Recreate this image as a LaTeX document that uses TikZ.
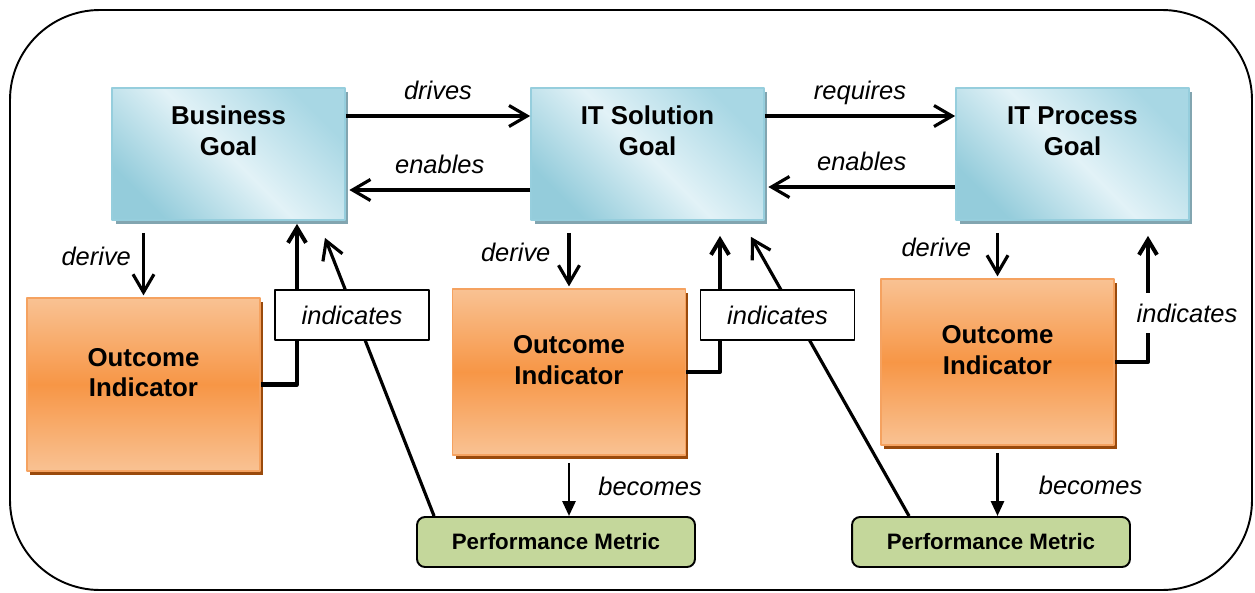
\documentclass[tikz,border=0pt]{standalone}
\usepackage{fontspec}
\setmainfont{Liberation Sans}
\usetikzlibrary{arrows.meta,shadows}
\definecolor{goalline}{HTML}{96CEDD}
\definecolor{goaldark}{HTML}{94CCDB}
\definecolor{goallight}{HTML}{E2F2F7}
\definecolor{goaltop}{HTML}{A8D7E4}
\definecolor{goalshadow}{HTML}{82A5B0}
\definecolor{outline}{HTML}{F5A260}
\definecolor{outlight}{HTML}{F9C293}
\definecolor{outmid}{HTML}{F79646}
\definecolor{outshadow}{HTML}{9A4A0C}
\definecolor{metricfill}{HTML}{C4D79B}
\begin{document}
\begin{tikzpicture}[x=0.02cm,y=-0.02cm,line join=round,
  goal/.style={draw=goalline,line width=1pt,minimum width=4.66cm,minimum height=2.64cm,
    bottom color=goaldark,top color=goaltop,middle color=goallight,shading angle=-45,
    font=\bfseries\fontsize{14.7}{17.6}\selectfont,align=center,text depth=0.92cm,
    drop shadow={shadow xshift=0.07cm,shadow yshift=-0.08cm,fill=goalshadow,opacity=1}},
  outcome/.style={draw=outline,line width=1pt,minimum width=4.66cm,minimum height=3.32cm,
    top color=outlight,bottom color=outlight,middle color=outmid,
    font=\bfseries\fontsize{14.7}{17.6}\selectfont,align=center,text depth=0.48cm,
    drop shadow={shadow xshift=0.06cm,shadow yshift=-0.08cm,fill=outshadow,opacity=1}},
  metric/.style={draw,line width=1.1pt,rounded corners=0.16cm,fill=metricfill,
    minimum width=5.56cm,minimum height=1cm,font=\bfseries\fontsize{12.7}{15}\selectfont},
  tag/.style={draw,line width=1pt,fill=white,minimum width=3.08cm,minimum height=1cm},
  lbl/.style={inner sep=0pt,text height=0.36cm,text depth=0.1cm},
  flow/.style={line width=1.8pt,-{Straight Barb[length=0.36cm,width=0.42cm]}},
  ind/.style={line width=2.3pt,-{Straight Barb[length=0.3cm,width=0.36cm]}},
  become/.style={line width=1.6pt,-{Triangle[length=0.3cm,width=0.26cm]}},
  font=\itshape\fontsize{14.5}{17}\selectfont]
\useasboundingbox (0,0) rectangle (1255,592);
\draw[line width=1.1pt,rounded corners=1.8cm] (10,10) rectangle (1252,590);

\node[goal] (bg) at (228.5,154) {Business\\Goal};
\node[goal] (sg) at (647.5,154) {IT Solution\\Goal};
\node[goal] (pg) at (1072.5,154) {IT Process\\Goal};
\node[outcome,minimum height=3.46cm] (oi1) at (143.5,384.5) {Outcome\\Indicator};
\node[outcome] (oi2) at (569,372) {Outcome\\Indicator};
\node[outcome] (oi3) at (997.5,362) {Outcome\\Indicator};
\node[metric] (pm1) at (556,542) {Performance Metric};
\node[metric] (pm2) at (991,542) {Performance Metric};

% goal to goal
\draw[flow] ([yshift=0.76cm]bg.east) -- node[lbl,above=0.2cm]{drives} ([yshift=0.76cm]sg.west);
\draw[flow] ([yshift=-0.72cm]sg.west) -- node[lbl,above=0.2cm]{enables} ([yshift=-0.72cm,xshift=0.07cm]bg.east);
\draw[flow] ([yshift=0.76cm]sg.east) -- node[lbl,above=0.2cm]{requires} ([yshift=0.76cm]pg.west);
\draw[flow] ([yshift=-0.66cm]pg.west) -- node[lbl,above=0.2cm]{enables} ([yshift=-0.66cm,xshift=0.07cm]sg.east);

% derive
\draw[flow,shorten <=0.24cm,shorten >=1pt] (oi1.north |- bg.south) -- node[lbl,left=0.22cm]{derive} (oi1.north);
\draw[flow,shorten <=0.24cm,shorten >=1pt] (oi2.north |- sg.south) -- node[lbl,left=0.34cm]{derive} (oi2.north);
\draw[flow,shorten <=0.24cm,shorten >=1pt] (oi3.north |- pg.south) -- node[lbl,left=0.5cm]{derive} (oi3.north);

% indicates
\draw[ind] (oi1.east) -| ([xshift=1.37cm,yshift=-0.06cm]bg.south);
\draw[ind] (oi2.east) -| ([xshift=1.45cm,yshift=-0.3cm]sg.south);
\draw[ind] (oi3.east) -| ([xshift=1.51cm,yshift=-0.3cm]pg.south);
\draw[flow] ([xshift=0.36cm]pm1.north west) -- ([xshift=1.93cm,yshift=-0.34cm]bg.south);
\draw[flow] ([xshift=1.16cm]pm2.north west) -- ([xshift=2.07cm,yshift=-0.32cm]sg.south);
\node[tag] (ind1) at (352,315) {indicates};
\node[tag] (ind2) at (777.5,315) {indicates};
\node[fill=white,inner sep=0pt,minimum height=0.8cm] (ind3) at (1187,313) {indicates};

% becomes
\draw[become,shorten <=0.14cm] (oi2.south) -- node[lbl,right=0.56cm,pos=0.55]{becomes} (oi2.south |- pm1.north);
\draw[become,shorten <=0.14cm] (oi3.south) -- node[lbl,right=0.8cm,pos=0.6]{becomes} (oi3.south |- pm2.north);
\end{tikzpicture}
\end{document}
